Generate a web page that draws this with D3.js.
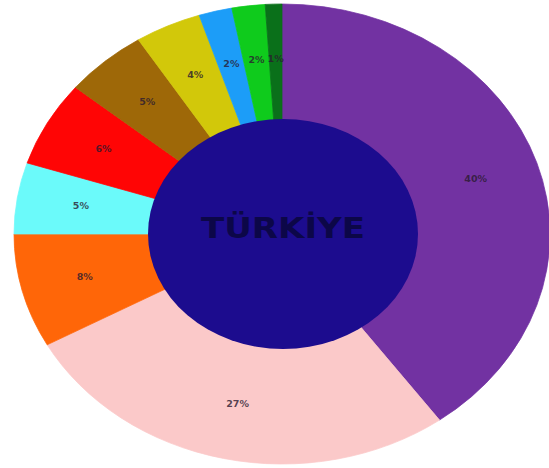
<!DOCTYPE html>
<html>
<head>
<meta charset="utf-8">
<script src="https://cdn.jsdelivr.net/npm/d3@7"></script>
<style>
  html, body { margin: 0; padding: 0; background: #ffffff; }
  svg { display: block; }
</style>
</head>
<body>
<script>
// Data (clockwise from 12 o'clock)
const labels = ["40%", "27%", "8%", "5%", "6%", "5%", "4%", "2%", "2%", "1%"];
const values = [40, 27, 8, 5, 6, 5, 4, 2, 2, 1];
const colors = ["#7232a2", "#fbc9c9", "#ff6608", "#6bfafa", "#ff0505", "#9e6808",
                "#d2c80a", "#1c9df8", "#0fcb1c", "#0a701a"];
const centerTitle = "TÜRKİYE";

const W = 549, H = 468;
const cx = 282, cy = 234;
const rx = 268, ry = 230;       // outer ellipse radii
const irx = 135, iry = 115;     // inner ellipse radii
const R = 100;                  // unit radius, scaled into ellipse

const svg = d3.select("body").append("svg")
  .attr("width", W).attr("height", H);

const pie = d3.pie().sort(null).value(d => d.v);
const data = pie(values.map((v, i) => ({ v, label: labels[i], color: colors[i] })));

const arc = d3.arc().innerRadius(0).outerRadius(R);
const labelArc = d3.arc().innerRadius(R * 0.76).outerRadius(R * 0.76);

const g = svg.append("g")
  .attr("transform", `translate(${cx},${cy}) scale(${rx / R},${ry / R})`);

g.selectAll("path.slice")
  .data(data)
  .join("path")
  .attr("class", "slice")
  .attr("d", arc)
  .attr("fill", d => d.data.color)
  .attr("stroke", d => d.data.color)
  .attr("stroke-width", 0.3);

// inner disc
svg.append("ellipse")
  .attr("cx", cx + 1).attr("cy", cy)
  .attr("rx", irx).attr("ry", iry)
  .attr("fill", "#1c0c8e");

// slice labels
svg.append("g").selectAll("text")
  .data(data)
  .join("text")
  .attr("transform", d => {
    const [x, y] = labelArc.centroid(d);
    return `translate(${cx + x * rx / R},${cy + y * ry / R})`;
  })
  .attr("text-anchor", "middle")
  .attr("dominant-baseline", "middle")
  .attr("font-family", "DejaVu Sans, sans-serif")
  .attr("font-weight", "bold")
  .attr("font-size", 9.5)
  .attr("fill", "#2a1a30")
  .attr("fill-opacity", 0.8)
  .text(d => d.data.label);

// center title
svg.append("text")
  .attr("x", 201).attr("y", 238)
  .attr("textLength", 164)
  .attr("lengthAdjust", "spacingAndGlyphs")
  .attr("font-family", "DejaVu Sans, sans-serif")
  .attr("font-weight", "bold")
  .attr("font-size", 28)
  .attr("fill", "#0c0748")
  .text(centerTitle);
</script>
</body>
</html>
